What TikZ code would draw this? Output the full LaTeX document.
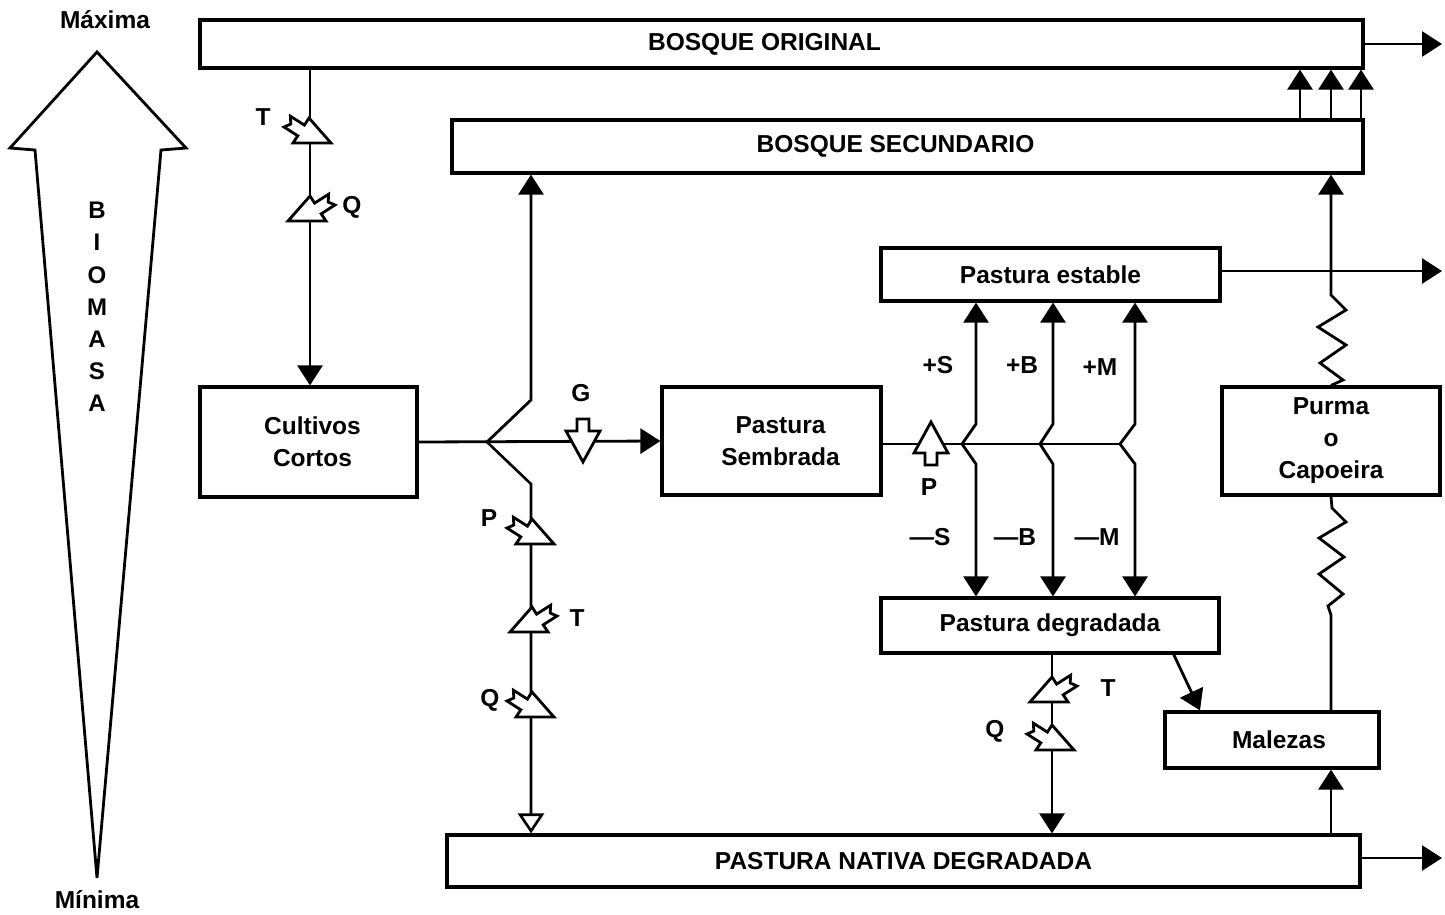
\documentclass[tikz,border=0pt]{standalone}
\usepackage{fontspec}
\setmainfont{Liberation Sans}
\usetikzlibrary{arrows.meta}
\begin{document}
\begin{tikzpicture}[x=1pt,y=-1pt,
  lw/.style={line width=2.8pt},
  box/.style={draw, line width=3.2pt, inner sep=0pt, align=center,
    font=\bfseries\fontsize{24.5}{32}\selectfont},
  lbl/.style={font=\bfseries\fontsize{24.5}{30}\selectfont, inner sep=0pt},
  conn/.style={line width=2.8pt, -{Triangle[length=20pt,width=25pt]}},
  openconn/.style={line width=2.6pt, -{Triangle[open,length=20pt,width=26pt]}},
  mk/.style={draw, fill=white, line width=2.8pt, line join=miter},
  hmk/.pic={\draw[mk] (0,0) -- (22,25) -- (-16,25) -- (-11.2,17.8) -- (-25,9)
     -- (-18.2,6) -- (-18.6,-1.8) -- (-4.6,7.1) -- cycle;},
  blk/.pic={\draw[mk] (0,0) -- (17,31) -- (6,31) -- (6,43) -- (-6,43) -- (-6,31) -- (-17,31) -- cycle;}
]
\useasboundingbox (0,0) rectangle (1445,914);

% big biomass arrow
\draw[line width=2.8pt, line join=miter] (97,52) -- (186,148) -- (161,150) -- (97,878) -- (35,150) -- (10,148) -- cycle;
\node[lbl] (max) at (105,20) {Máxima};
\node[lbl] (min) at (97,900) {Mínima};
\node[align=center, inner sep=0pt, font=\bfseries\fontsize{24}{32.2}\selectfont] (bio) at (97,307) {B\\I\\O\\M\\A\\S\\A};

% boxes
\node[box, minimum width=1163, minimum height=48] (BO) at (781.5,44) {BOSQUE ORIGINAL\hspace*{34pt}};
\node[box, minimum width=911, minimum height=53] (BS) at (907.5,146.5) {BOSQUE SECUNDARIO\hspace*{24pt}};
\node[box, minimum width=339, minimum height=53] (PE) at (1050.5,274.5) {Pastura estable};
\node[box, minimum width=217, minimum height=110] (CC) at (308.5,442) {\hspace*{8pt}Cultivos\\\hspace*{8pt}Cortos};
\node[box, minimum width=219, minimum height=108] (PS) at (771.5,441) {\hspace*{18pt}Pastura\\\hspace*{18pt}Sembrada};
\node[box, minimum width=218, minimum height=108] (PC) at (1331,441) {Purma\\o\\Capoeira};
\node[box, minimum width=338, minimum height=55] (PD) at (1050,625.5) {Pastura degradada};
\node[box, minimum width=214, minimum height=56] (MA) at (1272,740) {\hspace*{14pt}Malezas};
\node[box, minimum width=913, minimum height=52] (PN) at (903.5,861) {PASTURA NATIVA DEGRADADA};

% guide coordinates
\coordinate (xL) at (310,0);
\coordinate (J) at (487,442);
\coordinate (ub) at (531,400);
\coordinate (db) at (531,484);
\coordinate (K1) at (962,444);
\coordinate (K2) at (1040,444);
\coordinate (K3) at (1120,444);
\coordinate (u1) at (1300,0);
\coordinate (u2) at (1331,0);
\coordinate (u3) at (1361,0);
\coordinate (xD) at (1052,0);
\coordinate (xE) at (1442,0);
\coordinate (d1) at (1173,653);
\coordinate (d2) at (1200,0);

% connectors
\draw[conn] (xL |- BO.south) -- (xL |- CC.north);
\draw[conn] (CC.east) -- (PS.west);
\draw[conn] (J) -- (ub) -- (ub |- BS.south);
\draw[openconn] (J) -- (db) -- (db |- PN.north);

\draw[lw] (PS.east |- K1) -- (K3);
\draw[conn] (K1) -- (976,424) -- (976,0 |- PE.south);
\draw[conn] (K1) -- (976,464) -- (976,0 |- PD.north);
\draw[conn] (K2) -- (1053,424) -- (1053,0 |- PE.south);
\draw[conn] (K2) -- (1053,464) -- (1053,0 |- PD.north);
\draw[conn] (K3) -- (1135,424) -- (1135,0 |- PE.south);
\draw[conn] (K3) -- (1135,464) -- (1135,0 |- PD.north);

\draw[conn] (u1 |- BS.north) -- (u1 |- BO.south);
\draw[conn] (u2 |- BS.north) -- (u2 |- BO.south);
\draw[conn] (u3 |- BS.north) -- (u3 |- BO.south);

\draw[conn] (BO.east) -- (xE |- BO.east);
\draw[conn] (PE.east |- 0,271) -- (xE |- 0,271);
\draw[conn] (PN.east |- 0,858) -- (xE |- 0,858);

% purma springs
\draw[conn, line join=miter] (u2 |- PC.north) -- (1343,380) -- (1320,363) -- (1346,345) -- (1318,327)
   -- (1346,310) -- (1331,295) -- (u2 |- BS.south);
\draw[lw, line join=miter] (u2 |- MA.north) -- (1331,615) -- (1328,606) -- (1343,594) -- (1319,574)
   -- (1344,557) -- (1319,538) -- (1346,522) -- (1332,508) -- (u2 |- PC.south);
\draw[conn] (u2 |- PN.north) -- (u2 |- MA.south);

\draw[conn] (xD |- PD.south) -- (xD |- PN.north);
\draw[conn] (d1) -- (d2 |- MA.north);

% markers
\pic at (309,118) {hmk};
\pic[xscale=-1] at (310,196) {hmk};
\pic at (532,519) {hmk};
\pic[xscale=-1] at (532,607) {hmk};
\pic at (532,692) {hmk};
\pic[xscale=-1] at (1052,677) {hmk};
\pic at (1052,725) {hmk};
\pic[rotate=180] at (583,462) {blk};
\pic at (931,422) {blk};

% labels
\node[lbl] (lT1) at (263,117) {T};
\node[lbl] (lQ1) at (352,207) {Q};
\node[lbl] (lP1) at (489,518) {P};
\node[lbl] (lT2) at (577,618) {T};
\node[lbl] (lQ2) at (490,700) {Q};
\node[lbl] (lG) at (581,393) {G};
\node[lbl] (lP2) at (929,487) {P};
\node[lbl] (lT3) at (1108,688) {T};
\node[lbl] (lQ3) at (995,731) {Q};
\node[lbl] (pS) at (938,365) {+S};
\node[lbl] (pB) at (1022,365) {+B};
\node[lbl] (pM) at (1100,367) {+M};
\node[lbl] (mS) at (930,537) {—S};
\node[lbl] (mB) at (1015,537) {—B};
\node[lbl] (mM) at (1097,537) {—M};
\end{tikzpicture}
\end{document}
